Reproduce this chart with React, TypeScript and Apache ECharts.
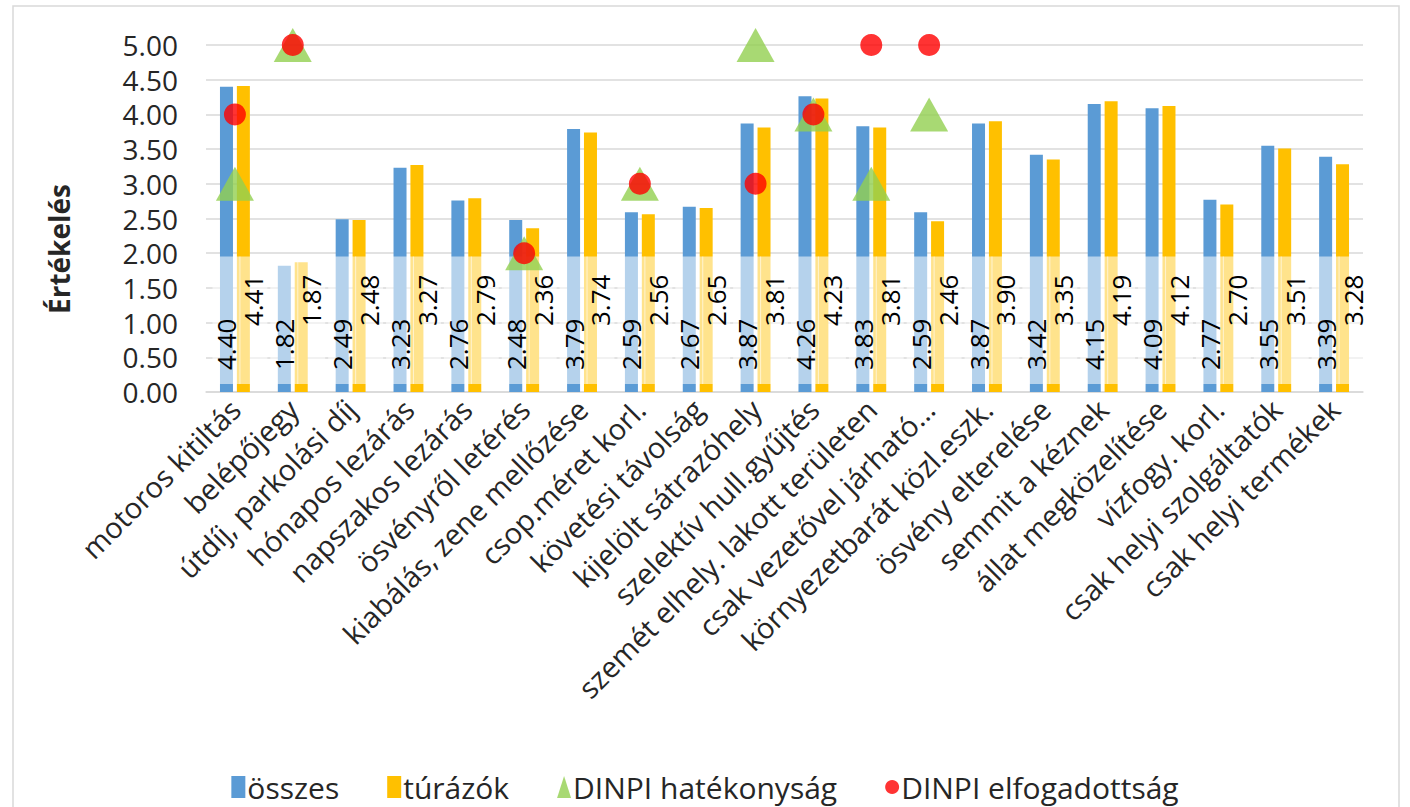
import React, { useEffect, useRef } from "react";
import * as echarts from "echarts";

const categories = [
  "motoros kitiltás",
  "belépőjegy",
  "útdíj, parkolási díj",
  "hónapos lezárás",
  "napszakos lezárás",
  "ösvényről letérés",
  "kiabálás, zene mellőzése",
  "csop.méret korl.",
  "követési távolság",
  "kijelölt sátrazóhely",
  "szelektív hull.gyűjtés",
  "szemét elhely. lakott területen",
  "csak vezetővel járható…",
  "környezetbarát közl.eszk.",
  "ösvény elterelése",
  "semmit a kéznek",
  "állat megközelítése",
  "vízfogy. korl.",
  "csak helyi szolgáltatók",
  "csak helyi termékek",
];

const osszes = [4.40, 1.82, 2.49, 3.23, 2.76, 2.48, 3.79, 2.59, 2.67, 3.87, 4.26, 3.83, 2.59, 3.87, 3.42, 4.15, 4.09, 2.77, 3.55, 3.39];
const turazok = [4.41, 1.87, 2.48, 3.27, 2.79, 2.36, 3.74, 2.56, 2.65, 3.81, 4.23, 3.81, 2.46, 3.90, 3.35, 4.19, 4.12, 2.70, 3.51, 3.28];
const hatekonysag: (number | string)[] = [3, 5, "-", "-", "-", 2, "-", 3, "-", 5, 4, 3, 4, "-", "-", "-", "-", "-", "-", "-"];
const elfogadottsag: (number | string)[] = [4, 5, "-", "-", "-", 2, "-", 3, "-", 3, 4, 5, 5, "-", "-", "-", "-", "-", "-", "-"];
const yTicks = { min: 0, max: 5, interval: 0.5 };

const FONT = "'Open Sans', sans-serif";
const TEXT = "#262626";

export default function App() {
  const ref = useRef<HTMLDivElement>(null);
  useEffect(() => {
    if (!ref.current) return;
    const chart = echarts.init(ref.current, undefined, { renderer: "svg" });
    const barLabel = (padL: number, padR: number, dx: number) => ({
      show: true,
      rotate: 90,
      position: "insideBottom",
      distance: 8,
      align: "left",
      verticalAlign: "middle",
      offset: [0, dx],
      fontSize: 26,
      fontFamily: FONT,
      color: "#000",
      lineHeight: 28,
      padding: [0, padR, 0, padL],
      backgroundColor: "rgba(255,255,255,0.55)",
      formatter: (p: any) => Number(p.value).toFixed(2),
    });
    chart.setOption({
      animation: false,
      grid: { left: 206, right: 47, top: 45, bottom: 415, containLabel: false },
      graphic: [
        {
          type: "rect",
          shape: { x: 13, y: 6, width: 1386, height: 840 },
          style: { fill: "none", stroke: "#d9d9d9", lineWidth: 1.5 },
          silent: true,
        },
        {
          type: "text",
          x: 59,
          y: 249,
          rotation: Math.PI / 2,
          style: {
            text: "Értékelés",
            fontSize: 28,
            fontWeight: "bold",
            fontFamily: FONT,
            fill: TEXT,
            textAlign: "center",
            textVerticalAlign: "middle",
          },
        },
      ],
      legend: {
        bottom: 0,
        left: "center",
        itemWidth: 14,
        itemHeight: 22,
        itemGap: 48,
        textStyle: { fontSize: 30, fontFamily: FONT, color: TEXT, padding: [0, 0, 0, -3] },
        data: [
          { name: "összes", icon: "rect" },
          { name: "túrázók", icon: "rect" },
          { name: "DINPI hatékonyság", icon: "triangle" },
          { name: "DINPI elfogadottság", icon: "circle" },
        ],
      },
      xAxis: {
        type: "category",
        data: categories,
        axisTick: { show: false },
        axisLine: { lineStyle: { color: "#d9d9d9", width: 1.5 } },
        axisLabel: {
          interval: 0,
          rotate: 45,
          fontSize: 29,
          fontFamily: FONT,
          color: TEXT,
          margin: 12,
        },
      },
      yAxis: {
        type: "value",
        min: yTicks.min,
        max: yTicks.max,
        interval: yTicks.interval,
        axisLine: { show: false },
        axisTick: { show: false },
        splitLine: { lineStyle: { color: "#d9d9d9", width: 1.5 } },
        axisLabel: {
          fontSize: 28,
          fontFamily: FONT,
          color: TEXT,
          margin: 28,
          formatter: (v: number) => v.toFixed(2),
        },
      },
      series: [
        {
          name: "összes",
          type: "bar",
          data: osszes,
          barWidth: 13,
          barGap: "30%",
          itemStyle: { color: "#5B9BD5" },
          label: barLabel(14, 62, 0),
          z: 2,
        },
        {
          name: "túrázók",
          type: "bar",
          data: turazok,
          barWidth: 13,
          itemStyle: { color: "#FFC000" },
          label: barLabel(58, 18, 10),
          z: 2,
        },
        {
          name: "DINPI hatékonyság",
          type: "scatter",
          data: hatekonysag,
          symbol: "triangle",
          symbolSize: [38, 34],
          itemStyle: { color: "#92D050" },
          z: 3,
        },
        {
          name: "DINPI elfogadottság",
          type: "scatter",
          data: elfogadottsag,
          symbol: "circle",
          symbolSize: 22,
          itemStyle: { color: "#FF0000" },
          z: 4,
        },
      ],
    });
    return () => chart.dispose();
  }, []);
  return (
    <div
      ref={ref}
      style={{ position: "fixed", left: 0, top: 0, width: 1410, height: 807, background: "#fff" }}
    />
  );
}
